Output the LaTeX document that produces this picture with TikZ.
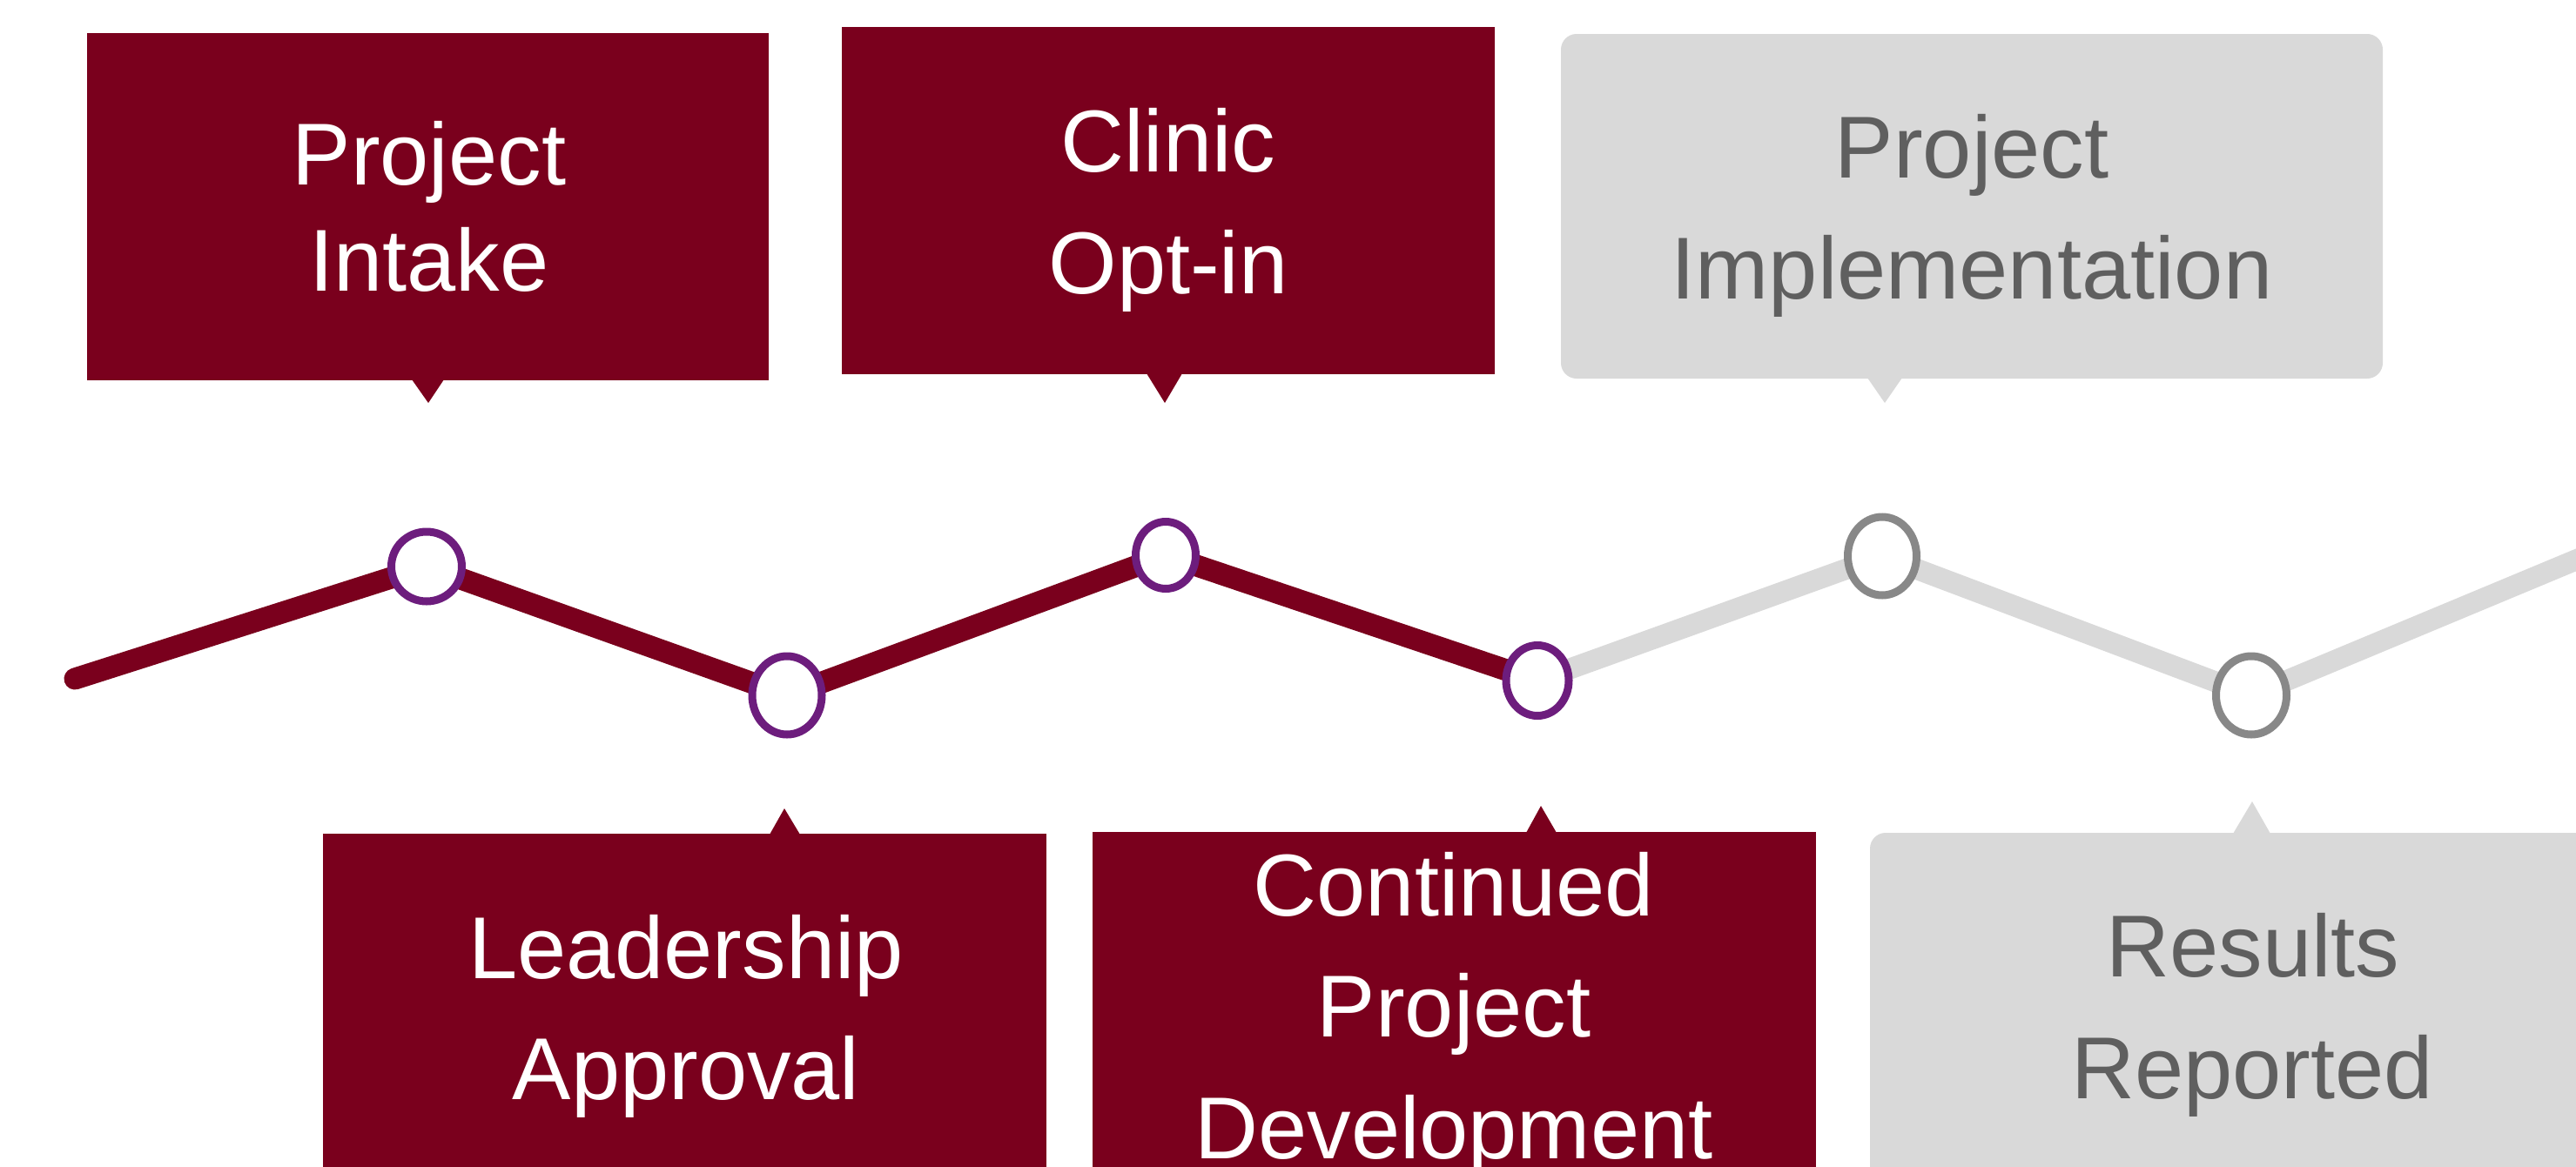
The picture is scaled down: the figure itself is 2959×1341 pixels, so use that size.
\documentclass[tikz,border=0pt]{standalone}
\usepackage{fontspec}
\setmainfont{Liberation Sans}
\usetikzlibrary{shapes.geometric,backgrounds}
\definecolor{maroonc}{RGB}{122,0,29}
\definecolor{purplec}{RGB}{109,29,125}
\definecolor{lgray}{RGB}{217,217,217}
\definecolor{dgray}{RGB}{136,136,136}
\definecolor{tgray}{RGB}{95,95,95}
\tikzset{
  mbox/.style={rectangle, fill=maroonc, inner sep=0pt, outer sep=0pt},
  gbox/.style={rectangle, fill=lgray, rounded corners=18pt, inner sep=0pt, outer sep=0pt},
  mptr/.style={fill=maroonc},
  gptr/.style={fill=lgray},
  wtxt/.style={text=white, font=\fontsize{101}{120}\selectfont, inner sep=0pt, anchor=base},
  gtxt/.style={wtxt, text=tgray},
  dotm/.style={ellipse, draw=purplec, fill=white, line width=9pt, inner sep=0pt, outer sep=0pt},
  dotg/.style={dotm, draw=dgray},
  mline/.style={draw=maroonc, line width=25pt, line cap=round, line join=round},
  gline/.style={draw=lgray, line width=24pt, line join=round}
}
\begin{document}
\begin{tikzpicture}[x=1pt,y=-1pt]
\clip (0,0) rectangle (2959,1341);

% top boxes
\node[mbox, minimum width=783pt, minimum height=399pt] (b1) at (491.5,237.5) {};
\fill[mptr] (473,436) -- (492,463) -- (510,436) -- cycle;
\node[mbox, minimum width=750pt, minimum height=399pt] (b2) at (1342,230.5) {};
\fill[mptr] (1317,429) -- (1338,463) -- (1358,429) -- cycle;
\node[gbox, minimum width=944pt, minimum height=396pt] (b3) at (2265,237) {};
\fill[gptr] (2145,434) -- (2165,463) -- (2185,434) -- cycle;

% bottom boxes
\node[mbox, minimum width=831pt, minimum height=480pt] (b4) at (786.5,1198) {};
\fill[mptr] (884,959) -- (901,929) -- (919,959) -- cycle;
\node[mbox, minimum width=831pt, minimum height=480pt] (b5) at (1670.5,1196) {};
\fill[mptr] (1753,957) -- (1770,926) -- (1788,957) -- cycle;
\node[gbox, minimum width=882pt, minimum height=480pt] (b6) at (2589,1197) {};
\fill[gptr] (2565,958) -- (2587,921) -- (2608,958) -- cycle;

% texts
\node[wtxt] (t1a) at (493,212) {Project};
\node[wtxt] (t1b) at (493,334) {Intake};
\node[wtxt] (t2a) at (1342,197) {Clinic};
\node[wtxt] (t2b) at (1342,337) {Opt-in};
\node[gtxt] (t3a) at (2265,204) {Project};
\node[gtxt] (t3b) at (2265,343) {Implementation};
\node[wtxt] (t4a) at (788,1124) {Leadership};
\node[wtxt] (t4b) at (788,1263) {Approval};
\node[wtxt] (t5a) at (1670,1052) {Continued};
\node[wtxt] (t5b) at (1670,1191) {Project};
\node[wtxt] (t5c) at (1670,1331) {Development};
\node[gtxt] (t6a) at (2588,1122) {Results};
\node[gtxt] (t6b) at (2587,1262) {Reported};

% timeline markers
\coordinate (s0) at (86,780);
\coordinate (e7) at (2972,638);
\node[dotm, minimum width=81pt, minimum height=80pt] (c1) at (490,651) {};
\node[dotm, minimum width=80pt, minimum height=90pt] (c2) at (904,799) {};
\node[dotm, minimum width=69pt, minimum height=77pt] (c3) at (1339,638) {};
\node[dotm, minimum width=72pt, minimum height=81pt] (c4) at (1766,782) {};
\node[dotg, minimum width=79pt, minimum height=90pt] (c5) at (2162,639) {};
\node[dotg, minimum width=81pt, minimum height=90pt] (c6) at (2586,799) {};

\begin{scope}[on background layer]
\fill[white] (0,0) rectangle (2959,1341);
\draw[mline] (s0) -- (c1.center) -- (c2.center) -- (c3.center) -- (c4.center);
\draw[gline] (c4.center) -- (c5.center) -- (c6.center) -- (e7);
\end{scope}
\end{tikzpicture}
\end{document}
